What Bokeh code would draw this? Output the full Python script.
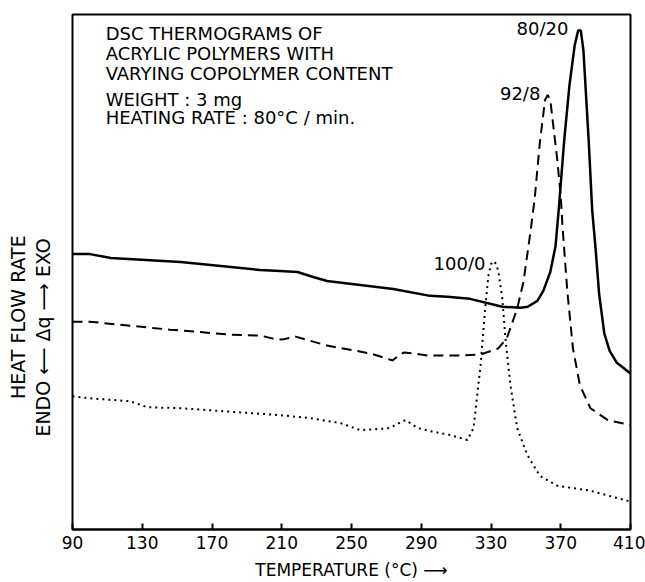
import math
from bokeh.plotting import figure
from bokeh.layouts import row
from bokeh.models import Range1d, FixedTicker, Label
from bokeh.embed import file_html
from bokeh.resources import INLINE

# Temperature (°C) and heat flow (arbitrary units, no scale shown)
t_80_20 = [90, 100, 112, 152, 197.5, 209, 219, 228, 236, 274, 295, 305, 318, 336.5, 347,
           351, 356.6, 360, 364, 367, 369, 372, 375, 378, 380, 381.5, 383, 386, 388, 390,
           392, 395, 398, 402, 410]
q_80_20 = [277, 277, 273, 269, 261, 260, 259, 254, 250, 242, 235, 234, 232, 224, 223,
           224, 230, 240, 259, 285, 325, 392, 447, 487, 502, 502, 482, 392, 322, 282,
           237, 197, 180, 168, 157]

t_92_8 = [90, 100, 123, 146, 181, 198, 205, 210, 218, 226, 236, 261, 270, 273.5, 277, 280,
          286, 293.5, 312, 324, 334, 339, 345, 348.6, 352.6, 355, 358, 361, 362.5, 364,
          366, 368, 370, 371, 373.8, 377, 381, 387, 397, 410]
q_92_8 = [209, 209, 205, 201, 196, 195, 192, 191, 194, 190, 185, 177, 172, 170, 175, 178,
          177, 175, 175, 176, 182, 192, 222, 249, 299, 332, 389, 432, 437, 432,
          402, 372, 335, 305, 239, 182, 145, 122, 110, 105]

t_100_0 = [90, 100, 123, 133, 152, 209, 226.5, 243.7, 255, 265, 272, 276, 281, 288, 295,
           306.7, 316.5, 320, 324, 326.8, 328.5, 330, 331.5, 333, 334.3, 336.5, 338.3,
           341, 345, 350.8, 358, 368, 387, 410]
q_100_0 = [134, 132, 129, 123, 122, 115, 112, 107, 100, 101, 102, 106, 110, 102, 99,
           95, 90, 102, 165, 225, 255, 267, 270, 267, 259, 232, 192,
           147, 102, 75, 54, 44, 39, 28]

x_ticks = [90, 130, 170, 210, 250, 290, 330, 370, 410]

title_lines = ["DSC THERMOGRAMS OF", "ACRYLIC POLYMERS WITH", "VARYING COPOLYMER CONTENT"]
info_lines = ["WEIGHT : 3 mg", "HEATING RATE : 80°C / min."]
y_label_outer = "HEAT FLOW RATE"
y_label_inner = "ENDO ⟵ Δq ⟶ EXO"

FONT = "DejaVu Sans"

# narrow side panel that carries the vertical axis titles
side = figure(width=60, height=582, output_backend="svg", toolbar_location=None,
              x_range=Range1d(0, 60), y_range=Range1d(0, 582),
              x_axis_location=None, y_axis_location=None,
              min_border=0, min_border_left=0, min_border_right=0,
              min_border_top=0, min_border_bottom=0)
side.outline_line_color = None
side.xgrid.visible = False
side.ygrid.visible = False
side.background_fill_color = "white"
side.border_fill_color = "white"
side.add_layout(Label(x=17, y=240, text=y_label_outer, text_font=FONT, text_font_size="19px",
                      text_color="black", text_align="center", text_baseline="middle",
                      angle=math.pi / 2))
side.add_layout(Label(x=42, y=217, text=y_label_inner, text_font=FONT, text_font_size="19px",
                      text_color="black", text_align="center", text_baseline="middle",
                      angle=math.pi / 2))

p = figure(width=585, height=582, output_backend="svg", toolbar_location=None,
           x_range=Range1d(90, 410), y_range=Range1d(0, 518), y_axis_location=None,
           min_border_left=12, min_border_right=15, min_border_top=14, min_border_bottom=50)
p.background_fill_color = "white"
p.border_fill_color = "white"
p.outline_line_color = "black"
p.outline_line_width = 2
p.xgrid.visible = False
p.ygrid.visible = False

ax = p.xaxis[0]
ax.ticker = FixedTicker(ticks=x_ticks)
ax.minor_tick_line_color = None
ax.major_tick_in = 6
ax.major_tick_out = 0
ax.major_tick_line_width = 2
ax.axis_line_width = 2
ax.major_label_text_font = FONT
ax.major_label_text_font_size = "17px"
ax.major_label_text_color = "black"
ax.major_label_standoff = 6
ax.axis_label = "TEMPERATURE (°C) ⟶"
ax.axis_label_text_font = FONT
ax.axis_label_text_font_size = "17px"
ax.axis_label_text_font_style = "normal"
ax.axis_label_text_color = "black"
ax.axis_label_standoff = 8

p.line(t_80_20, q_80_20, line_color="black", line_width=2.5)
p.line(t_92_8, q_92_8, line_color="black", line_width=2, line_dash="10 6")
p.line(t_100_0, q_100_0, line_color="black", line_width=2, line_dash="2 4")


def lab(x, y, text, align="left"):
    p.add_layout(Label(x=x, y=y, text=text, text_font=FONT, text_font_size="18px",
                       text_color="black", text_align=align, text_baseline="middle"))


for yy, t in zip([499, 479, 459], title_lines):
    lab(109, yy, t)
for yy, t in zip([433, 414], info_lines):
    lab(109, yy, t)

lab(374.4, 504, "80/20", align="right")
lab(358.3, 439, "92/8", align="right")
lab(326.8, 268, "100/0", align="right")

layout = row(side, p, spacing=0)
open("out.html", "w").write(file_html(layout, INLINE))
